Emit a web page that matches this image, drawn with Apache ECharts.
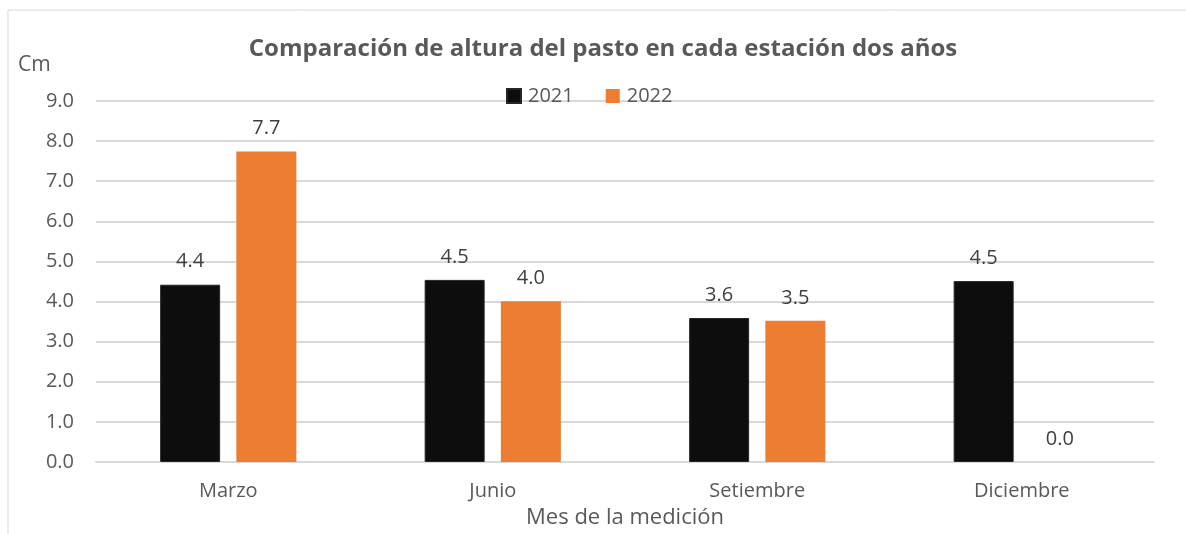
<!DOCTYPE html>
<html>
<head>
<meta charset="utf-8">
<script src="https://cdn.jsdelivr.net/npm/echarts@6/dist/echarts.min.js"></script>
<style>
  html, body { margin: 0; padding: 0; background: #fff; }
  #chart { width: 1186px; height: 534px; }
</style>
</head>
<body>
<div id="chart"></div>
<script>
var months = ['Marzo', 'Junio', 'Setiembre', 'Diciembre'];
var values2021 = [4.42, 4.54, 3.59, 4.51];
var values2022 = [7.74, 4.01, 3.52, 0];
var yTicks = [0, 1, 2, 3, 4, 5, 6, 7, 8, 9];

var txt = '#595959';
var font = 'Open Sans';

var chart = echarts.init(document.getElementById('chart'));

var option = {
   backgroundColor: '#fff',
   animation: false,
   textStyle: { fontFamily: font },
   title: {
      text: 'Comparación de altura del pasto en cada estación dos años',
      left: 598,
      textAlign: 'center',
      top: 32,
      textStyle: { fontFamily: font, fontSize: 24, fontWeight: 'bold', color: txt }
   },
   legend: {
      data: ['2021', '2022'],
      left: 501,
      top: 81,
      itemWidth: 14,
      itemHeight: 14,
      itemGap: 32,
      icon: 'rect',
      textStyle: { fontFamily: font, fontSize: 20, color: txt, padding: [0, 0, 0, 2] }
   },
   grid: { left: 96, right: 32, top: 101, bottom: 72 },
   graphic: [
      {
         type: 'polyline',
         shape: { points: [[8, 534], [8, 10], [1186, 10]] },
         style: { stroke: '#d9d9d9', lineWidth: 1, fill: null }
      }
   ],
   xAxis: {
      type: 'category',
      data: months,
      name: 'Mes de la medición',
      nameLocation: 'middle',
      nameGap: 45,
      nameTextStyle: { fontFamily: font, fontSize: 22, color: txt },
      axisLine: { lineStyle: { color: '#d9d9d9', width: 2 } },
      axisTick: { show: false },
      axisLabel: { fontFamily: font, fontSize: 20, color: txt, margin: 19 }
   },
   yAxis: {
      type: 'value',
      min: yTicks[0],
      max: yTicks[yTicks.length - 1],
      interval: 1,
      name: 'Cm',
      nameLocation: 'end',
      nameGap: 25,
      nameTextStyle: { fontFamily: font, fontSize: 21, color: txt, align: 'left', padding: [0, 0, 0, -78] },
      axisLine: { show: false },
      axisTick: { show: false },
      axisLabel: {
         fontFamily: font, fontSize: 20, color: txt, margin: 22,
         formatter: function (v) { return v.toFixed(1); }
      },
      splitLine: { lineStyle: { color: '#d9d9d9', width: 2 } }
   },
   series: [
      {
         name: '2021',
         type: 'bar',
         data: values2021,
         barWidth: 60,
         barGap: '27%',
         itemStyle: { color: '#0d0d0d', borderColor: '#262626', borderWidth: 1 },
         label: {
            show: true, position: 'top', distance: 13,
            fontFamily: font, fontSize: 20, color: '#404040',
            formatter: function (p) { return p.value.toFixed(1); }
         }
      },
      {
         name: '2022',
         type: 'bar',
         data: values2022,
         barWidth: 60,
         itemStyle: { color: '#ed7d31' },
         label: {
            show: true, position: 'top', distance: 13,
            fontFamily: font, fontSize: 20, color: '#404040',
            formatter: function (p) { return p.value.toFixed(1); }
         }
      }
   ]
};

chart.setOption(option);
</script>
</body>
</html>
